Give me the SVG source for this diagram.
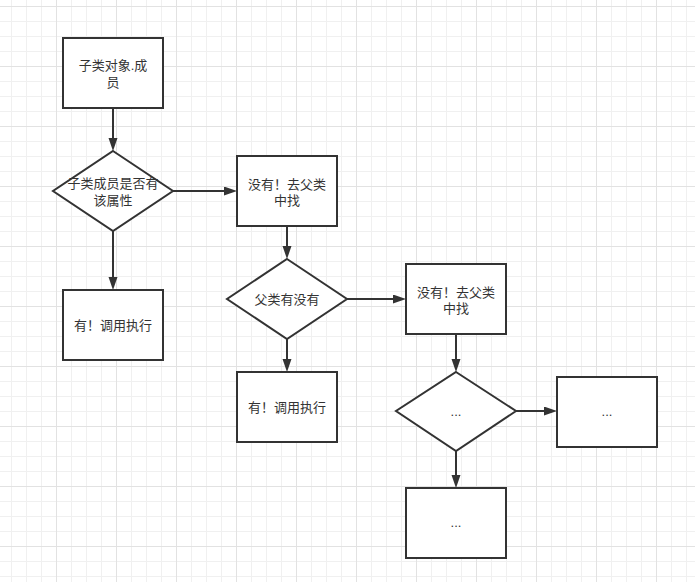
<svg xmlns="http://www.w3.org/2000/svg" width="695" height="582" viewBox="0 0 695 582">
<style>
.n{fill:#fff;stroke:#333;stroke-width:2}
.t{font-family:"Liberation Sans","Noto Sans CJK SC",sans-serif;font-size:13px;fill:#333;text-anchor:middle}
.e{fill:none;stroke:#333;stroke-width:2}
</style>
<defs>
<pattern id="minor" x="11" y="6" width="15" height="15" patternUnits="userSpaceOnUse">
<path d="M0.5 0V15M0 0.5H15" fill="none" stroke="#f0f0f0" stroke-width="1"/>
</pattern>
<pattern id="major" x="56" y="6" width="60" height="60" patternUnits="userSpaceOnUse">
<path d="M0.5 0V60M0 0.5H60" fill="none" stroke="#e2e2e2" stroke-width="1"/>
</pattern>
<marker id="ah" markerUnits="userSpaceOnUse" markerWidth="14" markerHeight="10" refX="0" refY="4.5" orient="auto" viewBox="0 0 14 10">
<path d="M0 0L13 4.5L0 9z" fill="#333"/>
</marker>
</defs>
<rect width="695" height="582" fill="#fff"/>
<rect width="695" height="582" fill="url(#minor)"/>
<rect width="695" height="582" fill="url(#major)"/>
<g id="connectors">
<path class="e" d="M113 108V138" marker-end="url(#ah)"/>
<path class="e" d="M173 191H224" marker-end="url(#ah)"/>
<path class="e" d="M113 231V277" marker-end="url(#ah)"/>
<path class="e" d="M287 226V246" marker-end="url(#ah)"/>
<path class="e" d="M347 299H393" marker-end="url(#ah)"/>
<path class="e" d="M287 339V359" marker-end="url(#ah)"/>
<path class="e" d="M456 334V359" marker-end="url(#ah)"/>
<path class="e" d="M516 411H544" marker-end="url(#ah)"/>
<path class="e" d="M456 451V475" marker-end="url(#ah)"/>
</g>
<g id="n1"><rect class="n" x="63" y="38" width="100" height="70"/><text class="t" x="113" y="70">子类对象.成</text><text class="t" x="113" y="86.5">员</text></g>
<g id="d1"><path class="n" d="M113 151L173 191L113 231L53 191z"/><text class="t" x="113" y="188">子类成员是否有</text><text class="t" x="113" y="204.5">该属性</text></g>
<g id="n2"><rect class="n" x="237" y="156" width="100" height="70"/><text class="t" x="287" y="188.5">没有！去父类</text><text class="t" x="287" y="205">中找</text></g>
<g id="n3"><rect class="n" x="63" y="290" width="100" height="70"/><text class="t" x="113" y="329.5">有！调用执行</text></g>
<g id="d2"><path class="n" d="M287 259L347 299L287 339L227 299z"/><text class="t" x="287" y="303.5">父类有没有</text></g>
<g id="n4"><rect class="n" x="406" y="264" width="100" height="70"/><text class="t" x="456" y="296.5">没有！去父类</text><text class="t" x="456" y="313">中找</text></g>
<g id="n5"><rect class="n" x="237" y="372" width="100" height="70"/><text class="t" x="287" y="411.5">有！调用执行</text></g>
<g id="d3"><path class="n" d="M456 372L516 411L456 451L396 411z"/><text class="t" x="456" y="416">...</text></g>
<g id="n6"><rect class="n" x="557" y="377" width="100" height="70"/><text class="t" x="607" y="416">...</text></g>
<g id="n7"><rect class="n" x="406" y="488" width="100" height="70"/><text class="t" x="456" y="527">...</text></g>
</svg>
